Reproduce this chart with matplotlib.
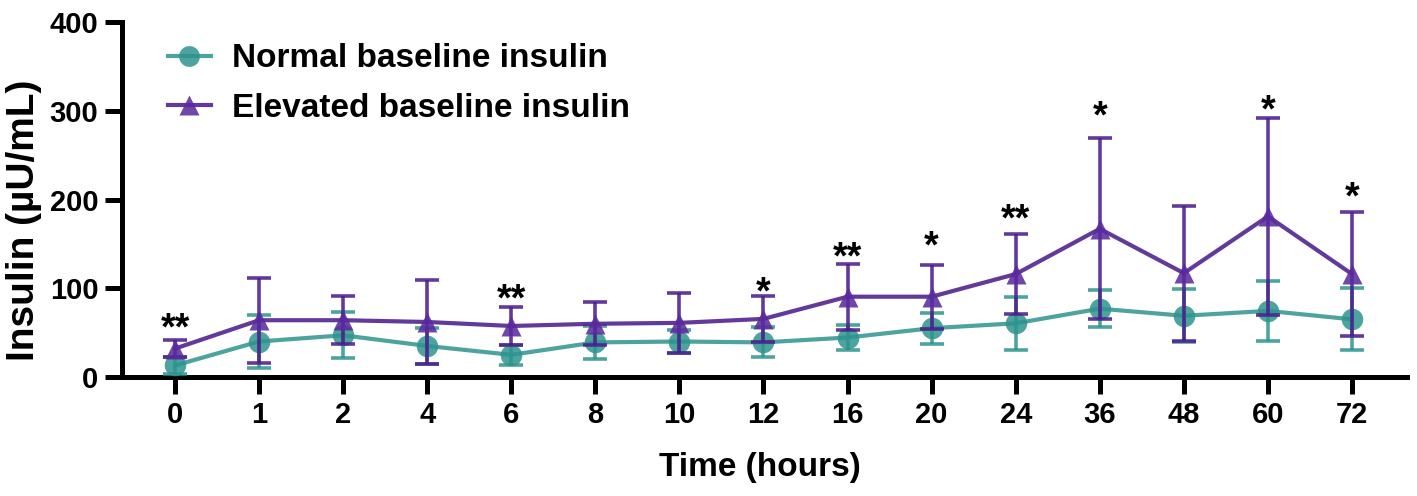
import matplotlib
matplotlib.use("Agg")
import matplotlib.pyplot as plt
from matplotlib.lines import Line2D
import numpy as np

plt.rcParams['font.family'] = ['Liberation Sans', 'DejaVu Sans']
plt.rcParams['font.weight'] = 'bold'

# time points (hours), shown as evenly spaced categories
time_labels = ['0', '1', '2', '4', '6', '8', '10', '12', '16', '20', '24', '36', '48', '60', '72']

# insulin (µU/mL), mean and SD
normal_mean = [13, 40, 47, 35, 25, 39, 40, 39, 44.5, 55, 60.5, 77, 69, 74.5, 65]
normal_sd = [10, 30, 26, 20, 11, 19, 13, 17, 14, 17.5, 30, 21, 30, 34, 35]
elevated_mean = [32, 64, 64, 62, 57.5, 60, 61, 65.5, 90.5, 90.5, 116, 167, 117, 181, 116]
elevated_sd = [10, 48, 27, 47, 21, 24, 34, 26, 37, 36, 45, 102, 76, 111, 70]

# significance marks and where they sit (y, µU/mL)
sig_labels = ['**', '', '', '', '**', '', '', '*', '**', '*', '**', '*', '', '*', '*']
sig_y = [66.5, 0, 0, 0, 100, 0, 0, 108, 147, 159.5, 190, 305.5, 0, 313, 215]

teal = '#2e948e'
purple = '#4c1c8e'
purple_fill = '#5a2a9e'

x = np.arange(len(time_labels))

fig = plt.figure(figsize=(14.17, 4.96), dpi=100)
ax = fig.add_axes([0.0861, 0.2399, 0.9069, 0.7157])

ax.errorbar(x, normal_mean, yerr=normal_sd, color=teal, lw=3, elinewidth=2.6,
            capsize=8.5, capthick=2.6, marker='o', ms=15.5, mfc=teal, mec='none',
            alpha=0.85, zorder=3)
ax.errorbar(x, elevated_mean, yerr=elevated_sd, color=purple, lw=3, elinewidth=2.6,
            capsize=8.5, capthick=2.6, marker='^', ms=15, mfc=purple_fill, mec='none',
            alpha=0.87, zorder=4)

star_fs = 27
for xi, lab, yi in zip(x, sig_labels, sig_y):
    if lab:
        ax.annotate(lab, (xi, yi), xytext=(0, -0.585 * star_fs), textcoords='offset points',
                    ha='center', va='baseline', fontsize=star_fs, fontweight='bold')

ax.set_xlim(-0.63, 14.655)
ax.set_ylim(0, 400)
ax.set_yticks([0, 100, 200, 300, 400])
ax.set_xticks(x)
ax.set_xticklabels(time_labels)

for side in ['top', 'right']:
    ax.spines[side].set_visible(False)
for side in ['left', 'bottom']:
    ax.spines[side].set_linewidth(3.6)
ax.tick_params(axis='both', width=3.6, length=12, labelsize=21, pad=5)

ax.set_ylabel('Insulin (µU/mL)', fontsize=28, fontweight='bold')
ax.yaxis.set_label_coords(-0.0625, 0.442)
ax.set_xlabel('Time (hours)', fontsize=24, fontweight='bold')
ax.xaxis.set_label_coords(0.4965, -0.21)

handles = [
    Line2D([], [], color=teal, lw=3, marker='o', ms=15, mec='none', alpha=0.85),
    Line2D([], [], color=purple, lw=3, marker='^', ms=15, mfc=purple_fill, mec='none', alpha=0.87),
]
ax.legend(handles, ['Normal baseline insulin', 'Elevated baseline insulin'],
          loc='upper left', bbox_to_anchor=(0.0358, 0.94), frameon=False,
          borderaxespad=0, borderpad=0, handlelength=1.28, handletextpad=0.65,
          labelspacing=0.55, prop={'weight': 'bold', 'size': 24})

fig.savefig('out.png', dpi=100)
